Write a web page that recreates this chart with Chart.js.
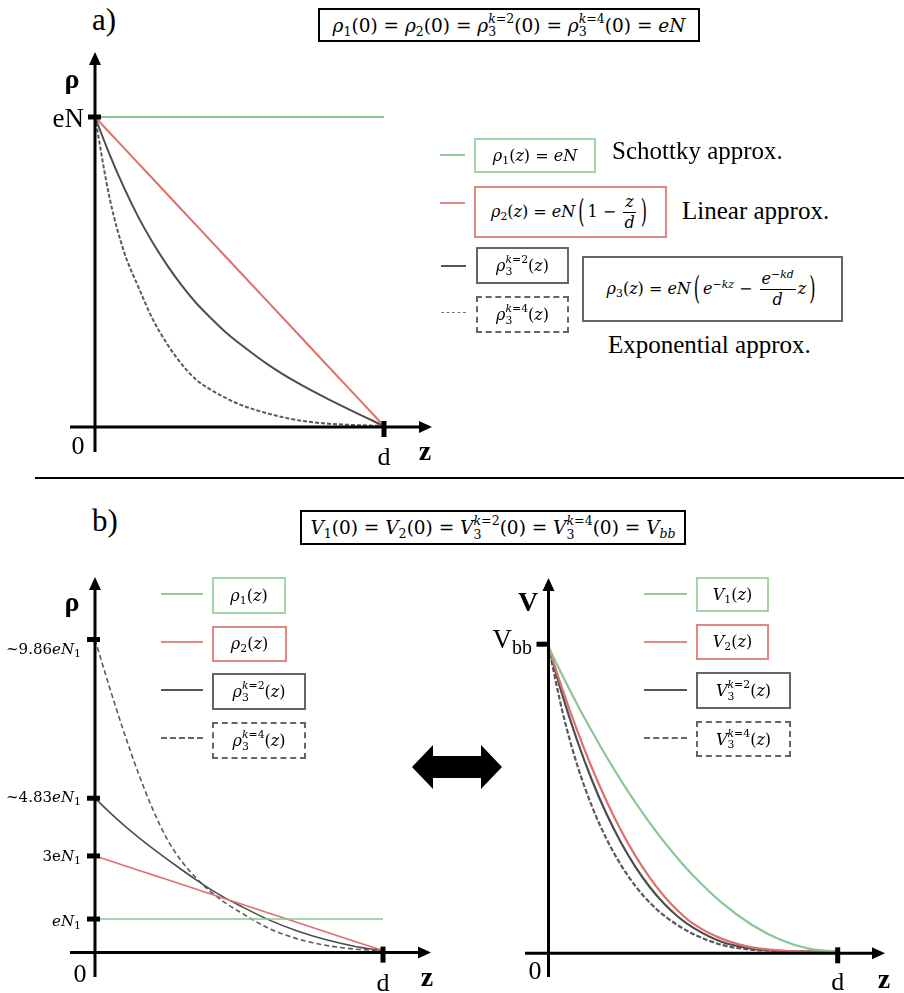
<!DOCTYPE html>
<html>
<head>
<meta charset="utf-8">
<script src="https://cdn.jsdelivr.net/npm/chart.js@4.4.1/dist/chart.umd.min.js"></script>
<style>
html,body{margin:0;padding:0;background:#fff;}
#page{position:relative;width:904px;height:993px;overflow:hidden;font-family:"Liberation Serif","Times New Roman",serif;color:#000;}
canvas{position:absolute;}
.abs{position:absolute;white-space:nowrap;}
.box{position:absolute;display:flex;align-items:center;justify-content:center;box-sizing:border-box;background:#fff;}
.mt{font-family:"DejaVu Serif",serif;font-size:16px;white-space:nowrap;line-height:1;}
.mt i{font-style:italic;}
.mt sub{font-size:0.68em;vertical-align:-0.3em;line-height:0;}
.mt sup{font-size:0.68em;vertical-align:0.55em;line-height:0;}
.ss{display:inline-block;vertical-align:-0.35em;font-size:0.68em;line-height:1.05;text-align:left;}
.ss>span{display:block;}
.fr{display:inline-flex;flex-direction:column;align-items:center;vertical-align:middle;margin:0 2px;}
.fr>span:first-child{border-bottom:1px solid #000;padding:0 2px 2px;}
.fr>span:last-child{padding-top:2px;}
.bp{display:inline-block;transform:scale(1,2);margin:0 3px;font-weight:300;}
.lab{font-size:25px;}
.ln{position:absolute;height:0;}
</style>
</head>
<body>
<div id="page">
  <!-- panel labels and header formulas -->
  <div class="abs" style="left:92px;top:2px;font-size:31px;">a)</div>
  <div class="abs" style="left:92px;top:503px;font-size:31px;">b)</div>
  <div class="box mt" style="left:318px;top:8px;width:382px;height:34px;border:2.5px solid #000;font-size:18.5px;"><span><i>ρ</i><sub>1</sub>(0) = <i>ρ</i><sub>2</sub>(0) = <i>ρ</i><span class="ss"><span><i>k</i>=2</span><span>3</span></span>(0) = <i>ρ</i><span class="ss"><span><i>k</i>=4</span><span>3</span></span>(0) = <i>eN</i></span></div>
  <div style="position:absolute;left:35px;top:477px;width:869px;height:2px;background:#000;"></div>
  <div class="box mt" style="left:300px;top:510px;width:386px;height:35px;border:2.5px solid #000;font-size:18.5px;"><span><i>V</i><sub>1</sub>(0) = <i>V</i><sub>2</sub>(0) = <i>V</i><span class="ss"><span><i>k</i>=2</span><span>3</span></span>(0) = <i>V</i><span class="ss"><span><i>k</i>=4</span><span>3</span></span>(0) = <i>V</i><sub><i>bb</i></sub></span></div>

  <canvas id="chartA" width="450" height="435" style="left:0;top:40px;"></canvas>
  <canvas id="chartB" width="450" height="433" style="left:0;top:560px;"></canvas>
  <canvas id="chartC" width="454" height="433" style="left:450px;top:560px;"></canvas>

  <!-- panel a legend -->
  <div class="ln" style="left:440px;top:154px;width:25px;border-top:2px solid #93c99b;"></div>
  <div class="box mt" style="left:474px;top:138px;width:122px;height:35px;border:2.5px solid #a3d4aa;"><span><i>ρ</i><sub>1</sub>(<i>z</i>) = <i>eN</i></span></div>
  <div class="abs lab" style="left:612px;top:137px;">Schottky approx.</div>

  <div class="ln" style="left:440px;top:202px;width:25px;border-top:2px solid #e38782;"></div>
  <div class="box mt" style="left:474px;top:186px;width:193px;height:52px;border:2.5px solid #e38782;"><span><i>ρ</i><sub>2</sub>(<i>z</i>) = <i>eN</i><span class="bp">(</span>1 − <span class="fr"><span><i>z</i></span><span><i>d</i></span></span><span class="bp">)</span></span></div>
  <div class="abs lab" style="left:682px;top:197px;">Linear approx.</div>

  <div class="ln" style="left:441px;top:265px;width:25px;border-top:2px solid #555;"></div>
  <div class="box mt" style="left:476px;top:247px;width:93px;height:37px;border:2.5px solid #666;"><span><i>ρ</i><span class="ss"><span><i>k</i>=2</span><span>3</span></span>(<i>z</i>)</span></div>
  <div class="ln" style="left:441px;top:312px;width:25px;border-top:1.5px dashed #777;"></div>
  <div class="box mt" style="left:476px;top:296px;width:93px;height:37px;border:2.5px dashed #666;"><span><i>ρ</i><span class="ss"><span><i>k</i>=4</span><span>3</span></span>(<i>z</i>)</span></div>
  <div class="box mt" style="left:582px;top:256px;width:261px;height:66px;border:2.5px solid #666;"><span><i>ρ</i><sub>3</sub>(<i>z</i>) = <i>eN</i><span class="bp">(</span><i>e</i><sup>−<i>kz</i></sup> − <span class="fr"><span><i>e</i><sup>−<i>kd</i></sup></span><span><i>d</i></span></span><i>z</i><span class="bp">)</span></span></div>
  <div class="abs lab" style="left:608px;top:331px;">Exponential approx.</div>

  <!-- panel b, left legend -->
  <div class="ln" style="left:161px;top:593px;width:42px;border-top:2.5px solid #93c99b;"></div>
  <div class="box mt" style="left:212px;top:577px;width:74px;height:37px;border:2.5px solid #a3d4aa;"><span><i>ρ</i><sub>1</sub>(<i>z</i>)</span></div>
  <div class="ln" style="left:161px;top:641px;width:42px;border-top:2.5px solid #e38782;"></div>
  <div class="box mt" style="left:212px;top:626px;width:75px;height:36px;border:2.5px solid #e38782;"><span><i>ρ</i><sub>2</sub>(<i>z</i>)</span></div>
  <div class="ln" style="left:161px;top:689px;width:42px;border-top:2.5px solid #555;"></div>
  <div class="box mt" style="left:212px;top:673px;width:94px;height:37px;border:2.5px solid #666;"><span><i>ρ</i><span class="ss"><span><i>k</i>=2</span><span>3</span></span>(<i>z</i>)</span></div>
  <div class="ln" style="left:161px;top:737px;width:42px;border-top:2.5px dashed #666;"></div>
  <div class="box mt" style="left:212px;top:722px;width:94px;height:37px;border:2.5px dashed #666;"><span><i>ρ</i><span class="ss"><span><i>k</i>=4</span><span>3</span></span>(<i>z</i>)</span></div>

  <!-- panel b, right legend -->
  <div class="ln" style="left:644px;top:593px;width:43px;border-top:2.5px solid #93c99b;"></div>
  <div class="box mt" style="left:696px;top:577px;width:73px;height:35px;border:2.5px solid #a3d4aa;"><span><i>V</i><sub>1</sub>(<i>z</i>)</span></div>
  <div class="ln" style="left:644px;top:641px;width:43px;border-top:2.5px solid #e38782;"></div>
  <div class="box mt" style="left:696px;top:624px;width:73px;height:36px;border:2.5px solid #e38782;"><span><i>V</i><sub>2</sub>(<i>z</i>)</span></div>
  <div class="ln" style="left:644px;top:689px;width:43px;border-top:2.5px solid #555;"></div>
  <div class="box mt" style="left:696px;top:672px;width:95px;height:37px;border:2.5px solid #666;"><span><i>V</i><span class="ss"><span><i>k</i>=2</span><span>3</span></span>(<i>z</i>)</span></div>
  <div class="ln" style="left:644px;top:737px;width:43px;border-top:2.5px dashed #666;"></div>
  <div class="box mt" style="left:696px;top:721px;width:95px;height:36px;border:2.5px dashed #666;"><span><i>V</i><span class="ss"><span><i>k</i>=4</span><span>3</span></span>(<i>z</i>)</span></div>

  <!-- double arrow between the charge and potential plots -->
  <svg style="position:absolute;left:0;top:0;" width="904" height="993">
    <polygon points="412,767 433,745 433,756 481,756 481,745 502,767 481,789 481,778 433,778 433,789" fill="#000"/>
  </svg>
</div>

<script>
// depth coordinate z / d, shared by every curve
const zGrid = [0, 0.05, 0.1, 0.15, 0.2, 0.25, 0.3, 0.35, 0.4, 0.45, 0.5, 0.6, 0.7, 0.8, 0.9, 1];

// (a) charge density profiles with equal surface value eN
const rhoA1   = [1, 1, 1, 1, 1, 1, 1, 1, 1, 1, 1, 1, 1, 1, 1, 1];
const rhoA2   = [1, 0.95, 0.9, 0.85, 0.8, 0.75, 0.7, 0.65, 0.6, 0.55, 0.5, 0.4, 0.3, 0.2, 0.1, 0];
const rhoA3k2 = [1, 0.88, 0.772, 0.676, 0.593, 0.52, 0.455, 0.398, 0.35, 0.305, 0.267, 0.198, 0.14, 0.09, 0.044, 0];
const rhoA3k4 = [1, 0.74, 0.565, 0.45, 0.345, 0.265, 0.2, 0.15, 0.118, 0.092, 0.07, 0.04, 0.019, 0.008, 0.003, 0];

// (b) charge density profiles in units of eN1 (equal band bending)
const rhoB1   = [1, 1, 1, 1, 1, 1, 1, 1, 1, 1, 1, 1, 1, 1, 1, 1];
const rhoB2   = [3, 2.85, 2.7, 2.55, 2.4, 2.25, 2.1, 1.95, 1.8, 1.65, 1.5, 1.2, 0.9, 0.6, 0.3, 0];
const rhoB3k2 = [4.83, 4.39, 3.98, 3.6, 3.24, 2.9, 2.57, 2.25, 1.95, 1.68, 1.44, 0.99, 0.63, 0.35, 0.14, 0];
const rhoB3k4 = [9.86, 8.36, 6.94, 5.64, 4.49, 3.54, 2.84, 2.31, 1.88, 1.53, 1.24, 0.72, 0.38, 0.17, 0.05, 0];
const rhoBTicks = [9.86, 4.83, 3, 1];

// (b) potential profiles in units of Vbb
const V1   = [1, 0.9025, 0.81, 0.7225, 0.64, 0.5625, 0.49, 0.4225, 0.36, 0.3025, 0.25, 0.16, 0.09, 0.04, 0.01, 0];
const V2   = [1, 0.855, 0.723, 0.603, 0.495, 0.399, 0.315, 0.243, 0.182, 0.132, 0.092, 0.042, 0.015, 0.004, 0.0005, 0];
const V3k2 = [1, 0.835, 0.69, 0.563, 0.453, 0.359, 0.279, 0.212, 0.157, 0.113, 0.079, 0.032, 0.011, 0.003, 0, 0];
const V3k4 = [1, 0.78, 0.61, 0.477, 0.371, 0.285, 0.216, 0.161, 0.118, 0.085, 0.058, 0.022, 0.007, 0.002, 0, 0];

const GREEN = '#8cc695', RED = '#e0706b', DARK = '#4d4d4d', DASH = '#5a5a5a';
const SERIF = '"Liberation Serif", "Times New Roman", serif';
const MATH = '"DejaVu Serif", serif';

function pts(ys) { return zGrid.map((z, i) => ({ x: z, y: ys[i] })); }

function curve(ys, color, width, dash) {
  return {
    data: pts(ys), borderColor: color, borderWidth: width, borderDash: dash || [],
    showLine: true, pointRadius: 0, cubicInterpolationMode: 'monotone', clip: false, fill: false
  };
}

// text made of several runs (font, vertical shift) on one line
function rich(ctx, parts, x, y, align) {
  let w = 0;
  parts.forEach(p => { ctx.font = p[1]; w += ctx.measureText(p[0]).width; });
  let cx = align === 'right' ? x - w : align === 'center' ? x - w / 2 : x;
  ctx.textBaseline = 'middle';
  ctx.textAlign = 'left';
  ctx.fillStyle = '#000';
  parts.forEach(p => { ctx.font = p[1]; ctx.fillText(p[0], cx, y + (p[2] || 0)); cx += ctx.measureText(p[0]).width; });
}

const sub1 = ['1', `11px ${MATH}`, 4];

// axis decoration for each plot, in canvas pixels
const axisSpecs = {
  chartA: {
    yTip: 12, yEnd: 412, xStart: 70, xTip: 432, xAxisShift: 1,
    yTicks: [{ v: 1, from: -7, to: 6, dy: 3, parts: [['eN', `27px ${SERIF}`]] }],
    tickLabelX: 84,
    yName: 'ρ', yNameX: 72, yNameY: 41,
    zeroX: 78, zeroDy: 20, dDy: 31, zX: 425, zDy: 26
  },
  chartB: {
    yTip: 17, yEnd: 417, xStart: 70, xTip: 431, xAxisShift: 2,
    yTicks: [
      { v: rhoBTicks[0], from: -8, to: 5, dy: 11, parts: [['~9.86', `15px ${MATH}`], ['eN', `italic 15px ${MATH}`], sub1] },
      { v: rhoBTicks[1], from: -8, to: 5, dy: 0, parts: [['~4.83', `15px ${MATH}`], ['eN', `italic 15px ${MATH}`], sub1] },
      { v: rhoBTicks[2], from: -8, to: 5, dy: 1, parts: [['3e', `15px ${MATH}`], ['N', `italic 15px ${MATH}`], sub1] },
      { v: rhoBTicks[3], from: -8, to: 5, dy: 3, parts: [['eN', `italic 15px ${MATH}`], sub1] }
    ],
    tickLabelX: 81,
    yName: 'ρ', yNameX: 72, yNameY: 44,
    zeroX: 80, zeroDy: 23, dDy: 32, zX: 427, zDy: 26
  },
  chartC: {
    yTip: 18, yEnd: 417, xStart: 75, xTip: 435, xAxisShift: 1.6,
    yTicks: [{ v: 1, shift: -2.5, from: -12, to: 0, dy: -3, parts: [['V', `27px ${SERIF}`], ['bb', `20px ${SERIF}`, 8]] }],
    tickLabelX: 82,
    yName: 'V', yNameX: 78, yNameY: 44,
    zeroX: 85, zeroDy: 19, dDy: 30, zX: 434, zDy: 27
  }
};

// hand-drawn looking axes: arrows, thick ticks and serif labels
const sketchAxes = {
  id: 'sketchAxes',
  afterDatasetsDraw(chart) {
    const o = axisSpecs[chart.canvas.id];
    const ctx = chart.ctx, xs = chart.scales.x, ys = chart.scales.y;
    const x0 = xs.getPixelForValue(0), x1 = xs.getPixelForValue(1), y0 = ys.getPixelForValue(0);
    const xa = y0 + o.xAxisShift;
    ctx.save();
    ctx.strokeStyle = '#000'; ctx.fillStyle = '#000'; ctx.lineWidth = 3;
    ctx.setLineDash([]);
    // vertical axis
    ctx.beginPath(); ctx.moveTo(x0, o.yEnd); ctx.lineTo(x0, o.yTip + 10); ctx.stroke();
    ctx.beginPath(); ctx.moveTo(x0, o.yTip); ctx.lineTo(x0 - 6, o.yTip + 13); ctx.lineTo(x0 + 6, o.yTip + 13); ctx.closePath(); ctx.fill();
    // horizontal axis
    ctx.beginPath(); ctx.moveTo(o.xStart, xa); ctx.lineTo(o.xTip - 10, xa); ctx.stroke();
    ctx.beginPath(); ctx.moveTo(o.xTip, xa); ctx.lineTo(o.xTip - 13, xa - 6); ctx.lineTo(o.xTip - 13, xa + 6); ctx.closePath(); ctx.fill();
    // ticks on the vertical axis
    o.yTicks.forEach(t => {
      const y = ys.getPixelForValue(t.v) + (t.shift || 0);
      ctx.fillStyle = '#000';
      ctx.fillRect(x0 + t.from, y - 2.5, t.to - t.from, 5);
      rich(ctx, t.parts, o.tickLabelX, y + (t.dy || 0), 'right');
    });
    // tick at z = d
    ctx.fillStyle = '#000';
    ctx.fillRect(x1 - 2.5, xa - 6, 5, 16);
    // axis labels
    rich(ctx, [[o.yName, `bold 28px ${SERIF}`]], o.yNameX, o.yNameY, 'center');
    rich(ctx, [['0', `26px ${SERIF}`]], o.zeroX, xa + o.zeroDy, 'center');
    rich(ctx, [['d', `26px ${SERIF}`]], x1, xa + o.dDy, 'center');
    rich(ctx, [['z', `bold 28px ${SERIF}`]], o.zX, xa + o.zDy, 'center');
    ctx.restore();
  }
};

function makeChart(id, datasets, yMax, pad) {
  return new Chart(document.getElementById(id), {
    type: 'scatter',
    data: { datasets },
    options: {
      responsive: false, animation: false, events: [],
      layout: { padding: pad },
      scales: {
        x: { type: 'linear', min: 0, max: 1, display: false },
        y: { type: 'linear', min: 0, max: yMax, display: false }
      },
      plugins: { legend: { display: false }, tooltip: { enabled: false } }
    },
    plugins: [sketchAxes]
  });
}

// (a) charge density
makeChart('chartA', [
  curve(rhoA1, GREEN, 2),
  curve(rhoA2, RED, 2),
  curve(rhoA3k2, DARK, 2),
  curve(rhoA3k4, DASH, 2, [4, 2])
], 1, { left: 95, right: 66, top: 77, bottom: 49 });

// (b) charge density, equal band bending
makeChart('chartB', [
  curve(rhoB1, GREEN, 1.6),
  curve(rhoB2, RED, 1.6),
  curve(rhoB3k2, DARK, 1.6),
  curve(rhoB3k4, DASH, 1.6, [5, 3])
], 10, { left: 95, right: 67, top: 75.1, bottom: 42.4 });

// (b) electrostatic potential
makeChart('chartC', [
  curve(V1, GREEN, 2.2),
  curve(V2, RED, 2.2),
  curve(V3k2, DARK, 2.2),
  curve(V3k4, DASH, 2.2, [5, 2])
], 1, { left: 98.5, right: 66.3, top: 86.7, bottom: 41.3 });
</script>
</body>
</html>
